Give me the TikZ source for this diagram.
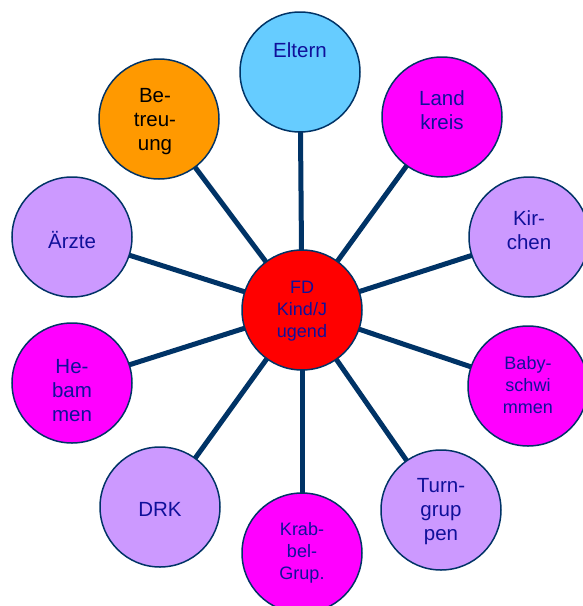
\documentclass[tikz,border=0pt]{standalone}
\usepackage{fontspec}
\setmainfont{Liberation Sans}
\usetikzlibrary{backgrounds}
\definecolor{navy}{HTML}{003366}
\definecolor{txtblue}{HTML}{10109A}
\definecolor{lightblue}{HTML}{66CCFF}
\definecolor{lav}{HTML}{CC99FF}
\definecolor{mag}{HTML}{FF00FF}
\definecolor{orng}{HTML}{FF9900}
\definecolor{fdred}{HTML}{FF0000}
\tikzset{
  circ/.style={circle, draw=navy, line width=1.5pt, minimum size=120pt, inner sep=0pt},
  big/.style={font=\fontsize{20.5}{24}\selectfont, text=txtblue, align=center},
  small/.style={font=\fontsize{18}{22}\selectfont, text=txtblue, align=center},
  spoke/.style={draw=navy, line width=5pt}
}
\begin{document}
\begin{tikzpicture}[x=1pt,y=-1pt]
\useasboundingbox (0,0) rectangle (582,606);
\node[circ, fill=fdred] (fd) at (302,310) {};
\node[small] at (302,311) {FD\\Kind/J\\ugend};
\node[circ, fill=lightblue] (eltern) at (300,72) {};
\node[big] at (300,50) {Eltern};
\node[circ, fill=mag] (land) at (442,117) {};
\node[big] at (442,110) {Land\\kreis};
\node[circ, fill=lav] (kirchen) at (529,237) {};
\node[big] at (529,230) {Kir-\\chen};
\node[circ, fill=mag] (baby) at (528,386) {};
\node[small] at (528,385) {Baby-\\schwi\\mmen};
\node[circ, fill=lav] (turn) at (441,510) {};
\node[big] at (441,512) {Turn-\\grup\\pen};
\node[circ, fill=mag] (krabbel) at (302,553) {};
\node[small] at (302,553) {Krab-\\bel-\\Grup.};
\node[circ, fill=lav] (drk) at (160,507) {};
\node[big] at (160,509) {DRK};
\node[circ, fill=mag] (heb) at (72,383) {};
\node[big] at (72,391) {He-\\bam\\men};
\node[circ, fill=lav] (aerzte) at (72,237) {};
\node[big] at (72,240) {Ärzte};
\node[circ, fill=orng] (betr) at (159,119) {};
\node[big, text=black] at (155,122) {Be-\\treu-\\ung};
\begin{scope}[on background layer]
\foreach \n in {eltern,land,kirchen,baby,turn,krabbel,drk,heb,aerzte,betr}
  \draw[spoke] (fd.center) -- (\n.center);
\end{scope}
\end{tikzpicture}
\end{document}
